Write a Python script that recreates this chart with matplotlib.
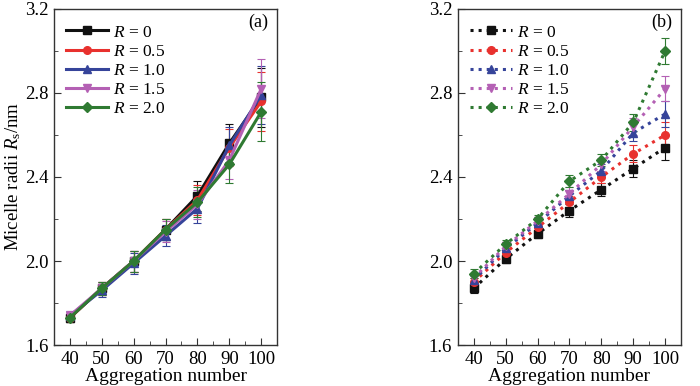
import matplotlib
matplotlib.use("Agg")
import matplotlib.pyplot as plt
from matplotlib.ticker import MultipleLocator

plt.rcParams['font.family'] = ['Liberation Serif', 'DejaVu Serif']
plt.rcParams['mathtext.fontset'] = 'custom'
plt.rcParams['mathtext.rm'] = 'Liberation Serif'
plt.rcParams['mathtext.it'] = 'Liberation Serif:italic'

agg = [40, 50, 60, 70, 80, 90, 100]
labels = ["$R$ = 0", "$R$ = 0.5", "$R$ = 1.0", "$R$ = 1.5", "$R$ = 2.0"]

# panel (a)
a_r0 = [1.73, 1.87, 2.00, 2.15, 2.31, 2.56, 2.78]
a_r05 = [1.73, 1.87, 2.00, 2.15, 2.29, 2.54, 2.76]
a_r10 = [1.74, 1.86, 1.99, 2.12, 2.25, 2.55, 2.79]
a_r15 = [1.74, 1.87, 2.00, 2.14, 2.27, 2.48, 2.82]
a_r20 = [1.73, 1.87, 2.00, 2.15, 2.28, 2.46, 2.71]
a_err = [0.02, 0.03, 0.05, 0.05, 0.07, 0.09, 0.14]

# panel (b)
b_r0 = [1.87, 2.01, 2.13, 2.24, 2.34, 2.44, 2.54]
b_r05 = [1.90, 2.04, 2.16, 2.28, 2.40, 2.51, 2.60]
b_r10 = [1.91, 2.06, 2.18, 2.31, 2.43, 2.61, 2.70]
b_r15 = [1.92, 2.07, 2.19, 2.32, 2.46, 2.64, 2.82]
b_r20 = [1.94, 2.08, 2.20, 2.38, 2.48, 2.66, 3.00]
b_err = [0.02, 0.02, 0.02, 0.03, 0.03, 0.04, 0.06]

colors = ["#111111", "#e8312e", "#36449a", "#b460b4", "#2f7a32"]
markers = ["s", "o", "^", "v", "D"]

fig = plt.figure(figsize=(7.0, 3.86), dpi=100)
axa = fig.add_axes([0.077, 0.106, 0.319, 0.871])
axb = fig.add_axes([0.654, 0.106, 0.319, 0.871])

for ax, series, err, ls, tag in [
    (axa, [a_r0, a_r05, a_r10, a_r15, a_r20], a_err, '-', '(a)'),
    (axb, [b_r0, b_r05, b_r10, b_r15, b_r20], b_err, ':', '(b)'),
]:
    for ys, c, m, lab in zip(series, colors, markers, labels):
        ax.errorbar(agg, ys, yerr=err, color=c, marker=m, ls=ls,
                    lw=2.2, ms=5.5 if m != 'D' else 5,
                    capsize=3, elinewidth=0.8, capthick=0.8,
                    ecolor=c, label=lab)
    ax.set_xlim(35, 105)
    ax.set_ylim(1.6, 3.2)
    ax.xaxis.set_major_locator(MultipleLocator(10))
    ax.xaxis.set_minor_locator(MultipleLocator(5))
    ax.yaxis.set_major_locator(MultipleLocator(0.4))
    ax.yaxis.set_minor_locator(MultipleLocator(0.2))
    ax.yaxis.set_major_formatter(matplotlib.ticker.FormatStrFormatter('%.1f'))
    ax.tick_params(which='both', direction='in', labelsize=13.5, color='#333333', pad=4)
    ax.tick_params(which='major', length=5)
    ax.tick_params(which='minor', length=3)
    for s in ax.spines.values():
        s.set_color('#333333')
        s.set_linewidth(1.0)
    ax.set_xlabel("Aggregation number", fontsize=14, labelpad=0)
    ax.text(0.96, 0.985, tag, transform=ax.transAxes, ha='right', va='top', fontsize=13)
    handles, labs = ax.get_legend_handles_labels()
    h2 = [h[0] for h in handles]
    ax.legend(h2, labs, loc='upper left', frameon=False, fontsize=12.5,
              handlelength=2.4, handletextpad=0.3, labelspacing=0.17,
              borderaxespad=0.3, bbox_to_anchor=(0.0, 0.99))

axa.set_ylabel("Micelle radii $R_{\\mathrm{s}}$/nm", fontsize=13.5, labelpad=1)

fig.savefig("out.png", dpi=100)
